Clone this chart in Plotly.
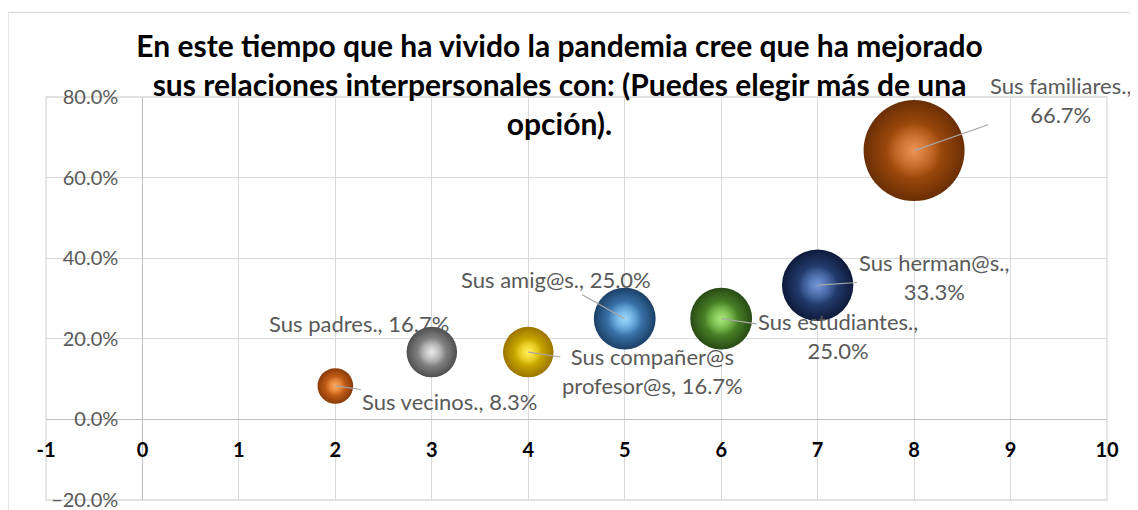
import plotly.graph_objects as go

# ---- data ----
categories = ["Sus vecinos.", "Sus padres.", "Sus compañer@s profesor@s", "Sus amig@s.",
              "Sus estudiantes.", "Sus herman@s.", "Sus familiares."]
x_values = [2, 3, 4, 5, 6, 7, 8]
y_values = [0.083, 0.167, 0.167, 0.25, 0.25, 0.333, 0.667]
bubble_sizes = [8.3, 16.7, 16.7, 25.0, 25.0, 33.3, 66.7]
x_ticks = [-1, 0, 1, 2, 3, 4, 5, 6, 7, 8, 9, 10]
y_ticks = [-0.2, 0.0, 0.2, 0.4, 0.6, 0.8]
title_text = ("<b>En este tiempo que ha vivido la pandemia cree que ha mejorado<br>"
              "sus relaciones interpersonales con: (Puedes elegir más de una<br>"
              "opción).</b>")

# ---- styles ----
body_colors = ["#E0701E", "#A3A3A3", "#F2C200", "#4C93D3", "#5CA232", "#2F508E", "#B9580F"]
edge_colors = ["#8A3A08", "#4E4E4E", "#9A7400", "#1C3F66", "#284A14", "#0E1A3A", "#6A2E05"]
highlight_colors = ["#F8B878", "#F2F2F2", "#FFF27A", "#B0E4FA", "#BEF590", "#86A6E4", "#F0A06A"]
wrap_mode = ["none", "none", "name", "none", "value", "value", "value"]
label_dx = [115, -73, 124, -69, 117, 116, 146]
label_dy = [16, -29, 19, -39, 17, -8, -51]
show_leader = [True, False, True, True, True, True, True]

FONT = "Lato"
GRAY_TXT = "#595959"
GRID = "#D9D9D9"
SIZEREF = 0.01308


def hex_rgb(h):
    h = h.lstrip("#")
    return [int(h[k:k + 2], 16) for k in (0, 2, 4)]


def center_of(body, edge):
    b, e = hex_rgb(body), hex_rgb(edge)
    c = [max(0, min(255, round(1.35 * bb - 0.35 * ee))) for bb, ee in zip(b, e)]
    return "rgb({},{},{})".format(*c)


def rgba(h, a):
    r, g, b = hex_rgb(h)
    return f"rgba({r},{g},{b},{a})"


fig = go.Figure()
for i in range(len(x_values)):
    fig.add_trace(go.Scatter(
        x=[x_values[i]], y=[y_values[i]], mode="markers",
        name=categories[i], showlegend=False,
        marker=dict(size=[bubble_sizes[i]], sizemode="area", sizeref=SIZEREF,
                    opacity=1, color=edge_colors[i], line=dict(width=0),
                    gradient=dict(type="radial",
                                  color=center_of(body_colors[i], edge_colors[i]))),
        hovertemplate="%{x}, %{y:.1%}<extra>" + categories[i] + "</extra>",
    ))
    # soft specular highlight (same point, smaller glow)
    fig.add_trace(go.Scatter(
        x=[x_values[i]], y=[y_values[i]], mode="markers", showlegend=False,
        hoverinfo="skip",
        marker=dict(size=[bubble_sizes[i] * 0.3], sizemode="area", sizeref=SIZEREF,
                    opacity=1, color=rgba(highlight_colors[i], 0), line=dict(width=0),
                    gradient=dict(type="radial", color=rgba(highlight_colors[i], 0.75))),
    ))

# data labels
for i in range(len(x_values)):
    txt = f"{categories[i]}, {y_values[i]:.1%}"
    if wrap_mode[i] == "value":
        txt = txt.replace(", ", ",<br>", 1)
    elif wrap_mode[i] == "name":
        txt = txt.replace(" profesor@s", "<br>profesor@s", 1)
    common = dict(x=x_values[i], y=y_values[i], xref="x", yref="y", text=txt,
                  font=dict(family=FONT, size=22, color=GRAY_TXT), align="center")
    if show_leader[i]:
        fig.add_annotation(**common, showarrow=True, arrowhead=0, arrowwidth=1.2,
                           arrowcolor="#A6A6A6", standoff=0, startstandoff=0,
                           ax=label_dx[i], ay=label_dy[i], axref="pixel", ayref="pixel")
    else:
        fig.add_annotation(**common, showarrow=False,
                           xshift=label_dx[i], yshift=-label_dy[i])

# outer chart border
fig.add_shape(type="rect", xref="paper", yref="paper",
              x0=-0.0358, x1=1.06, y0=-0.1, y1=1.21,
              line=dict(color=GRID, width=1.3), fillcolor="rgba(0,0,0,0)", layer="below")
# plot area border
fig.add_shape(type="rect", xref="x domain", yref="y domain", x0=0, x1=1, y0=0, y1=1,
              line=dict(color=GRID, width=1.3), fillcolor="rgba(0,0,0,0)", layer="below")

# page body has an 8px margin, so the figure is sized to fill the rest of the window
fig.update_layout(
    width=1130, height=502,
    margin=dict(l=38, r=31, t=89, b=10),
    paper_bgcolor="white", plot_bgcolor="white",
    title=dict(text=title_text, x=0.484, xref="paper", xanchor="center",
               y=1 - 49 / 502, yref="container", yanchor="middle",
               font=dict(family=FONT, size=30, color="#000000")),
    xaxis=dict(range=[-1, 10], tickvals=x_ticks, ticktext=[str(t) for t in x_ticks],
               showgrid=True, gridcolor=GRID, gridwidth=1.3, zeroline=False,
               showline=True, linecolor="#BFBFBF", linewidth=1.3,
               anchor="free", position=0.2, ticks="", ticklabelstandoff=12,
               ticklabeloverflow="allow", automargin=False,
               tickfont=dict(family=FONT, size=20, color="#000000", weight="bold")),
    yaxis=dict(range=[-0.2, 0.8], tickvals=y_ticks, tickformat=".1%",
               showgrid=True, gridcolor=GRID, gridwidth=1.3, zeroline=False,
               showline=True, linecolor="#BFBFBF", linewidth=1.3,
               anchor="free", position=1 / 11, ticks="", ticklabelstandoff=20,
               ticklabeloverflow="allow", automargin=False,
               tickfont=dict(family=FONT, size=20, color=GRAY_TXT)),
)

fig.write_html("out.html")
